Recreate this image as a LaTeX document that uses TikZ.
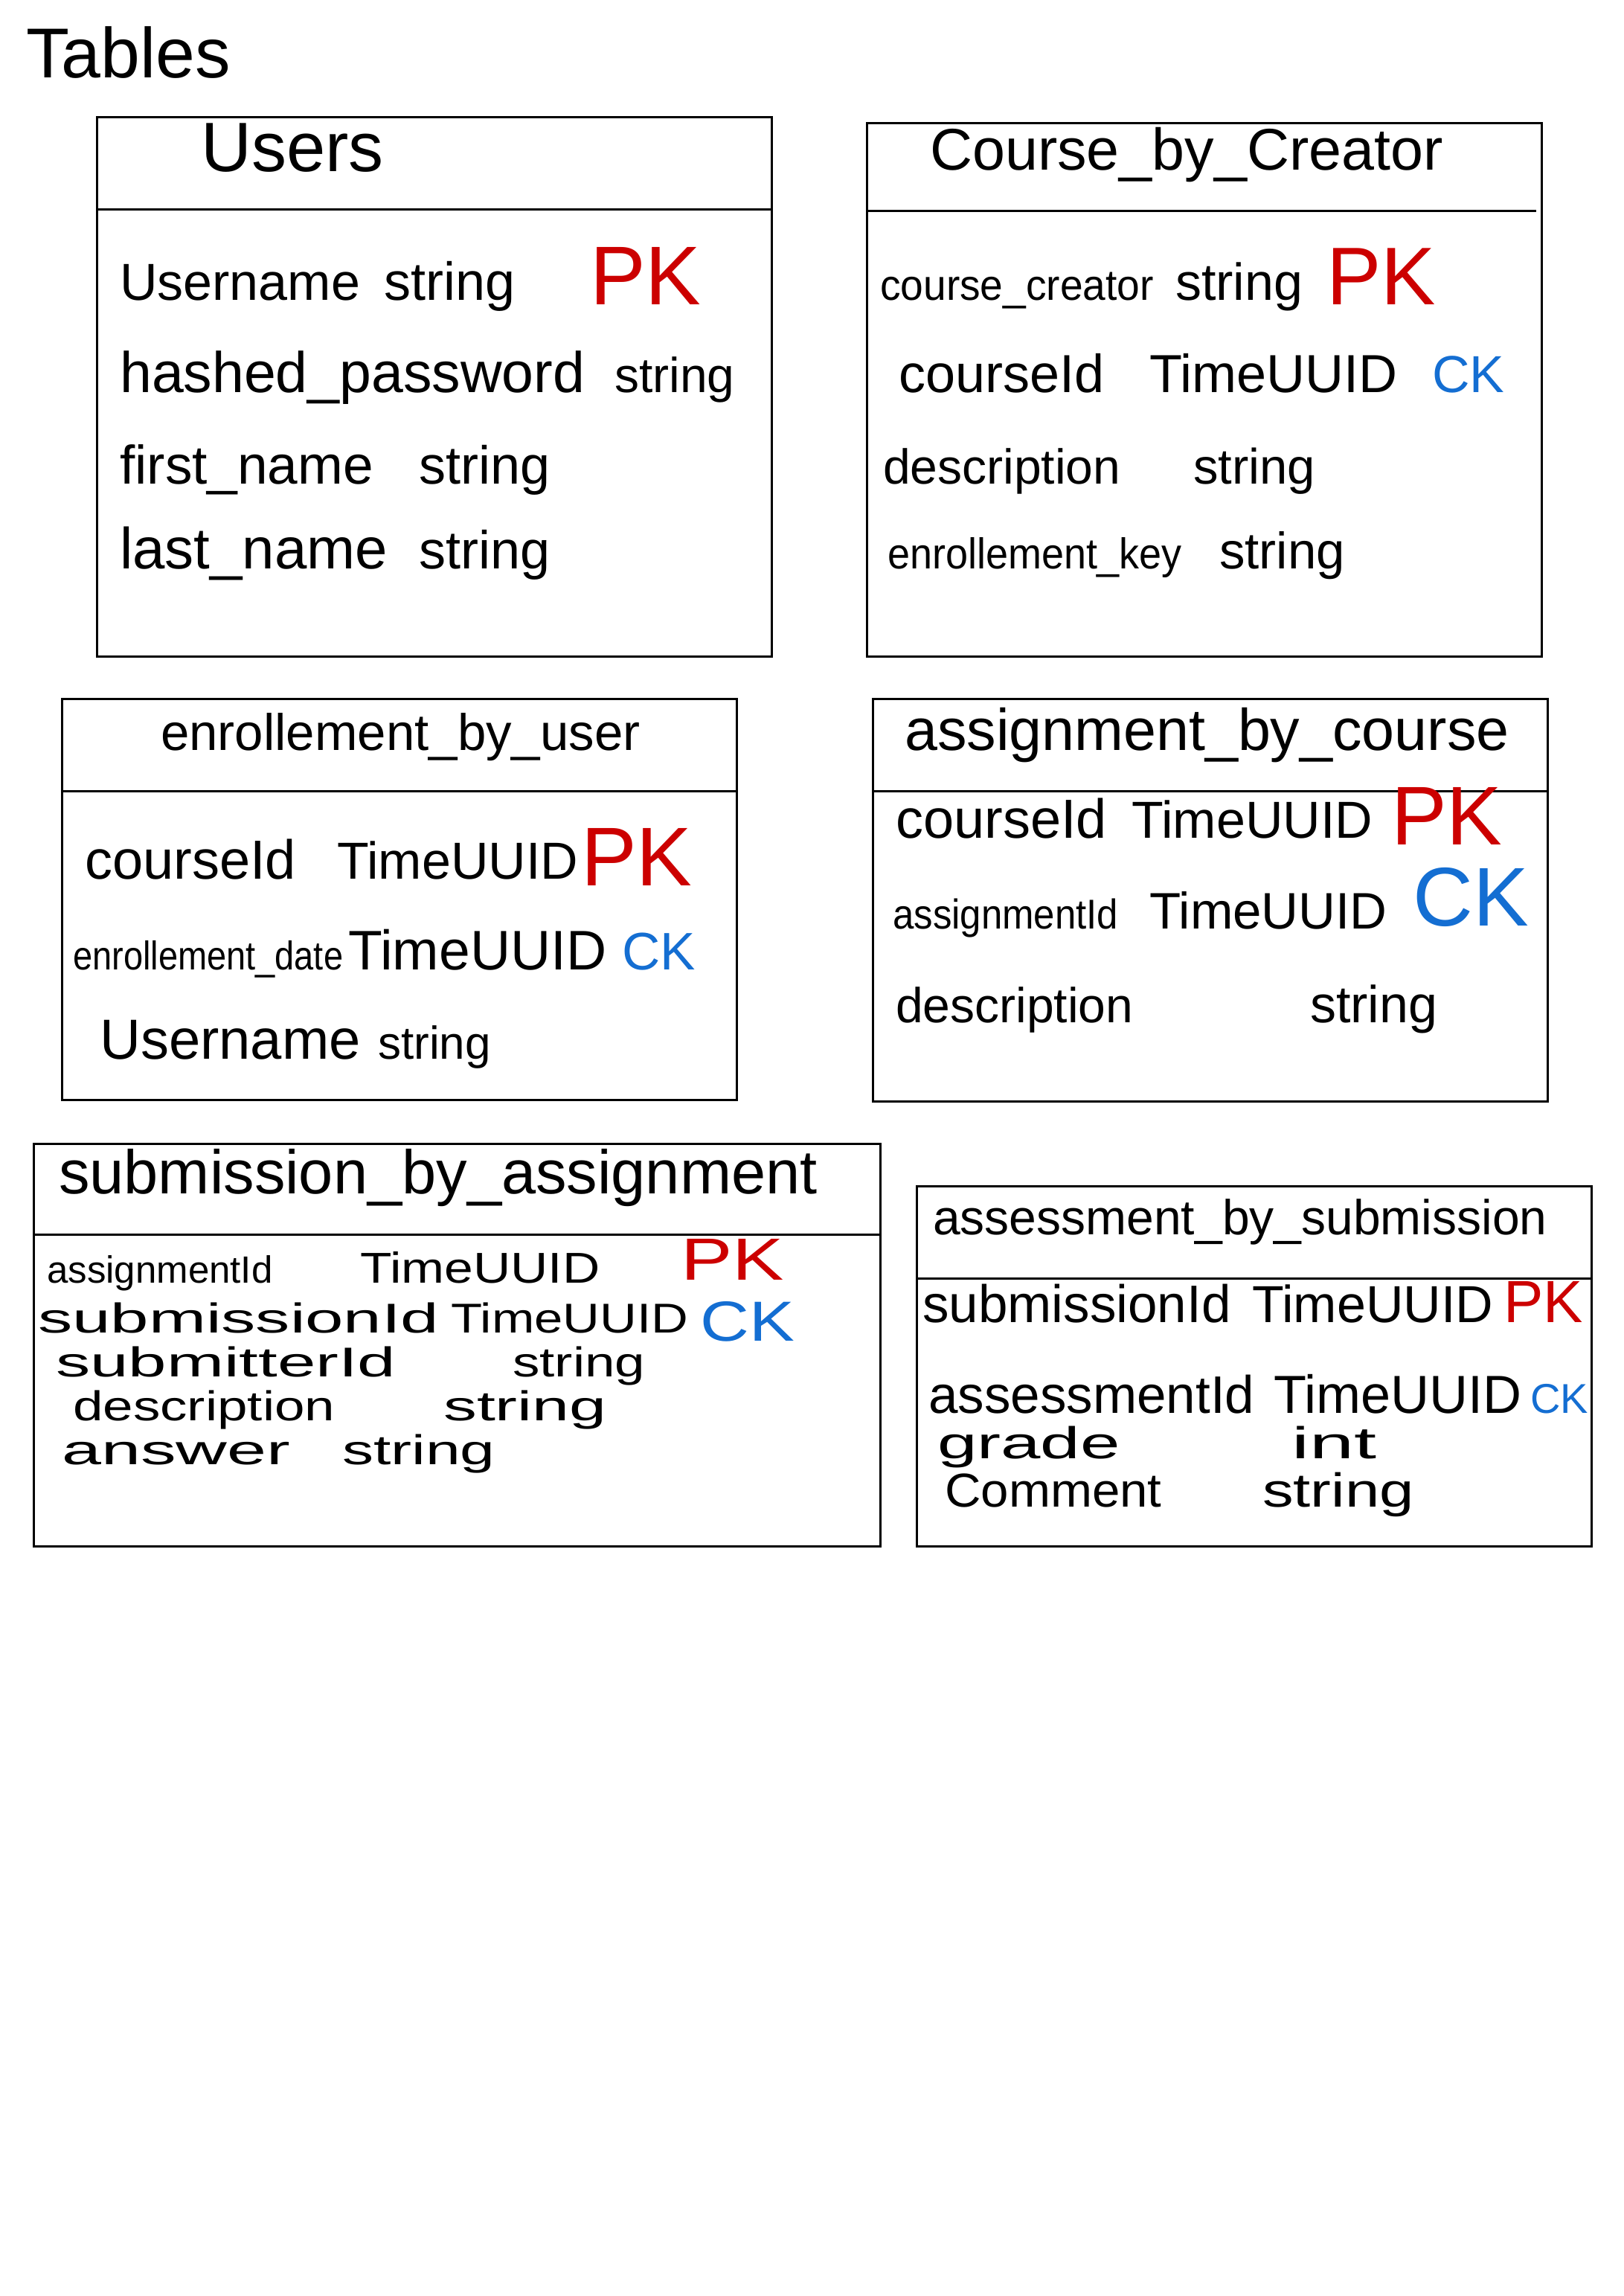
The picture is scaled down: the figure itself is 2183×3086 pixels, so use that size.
\documentclass[tikz,border=0pt]{standalone}
\usepackage{fontspec}
\usepackage{graphicx}
\setmainfont{Liberation Sans}
\definecolor{pkred}{RGB}{204,0,0}
\definecolor{ckblue}{RGB}{20,110,210}
\newcommand\hs[2]{\scalebox{#1}[1]{#2}}
\begin{document}
\begin{tikzpicture}[x=1pt,y=-1pt,
  tbl/.style={draw=black, line width=3pt},
  fld/.style={anchor=base west, inner sep=0pt, font=\fontsize{#1}{#1}\selectfont},
  pk/.style={fld=#1, text=pkred},
  ck/.style={fld=#1, text=ckblue}]
\useasboundingbox (0,0) rectangle (2183,3086);
\fill[white] (0,0) rectangle (2183,3086);

\node[fld=95] (title) at (35,104) {Tables};

% Users
\draw[tbl] (130,157) rectangle (1037,882);
\draw[tbl] (130,281) -- (1037,281);
\node[fld=94] (uT) at (270,230) {Users};
\node[fld=70] (u1) at (161,403) {Username};
\node[fld=72] (u1t) at (516,403) {string};
\node[pk=112] (u1k) at (793,409) {PK};
\node[fld=77] (u2) at (161,527) {hashed\_password};
\node[fld=66] (u2t) at (826,527) {string};
\node[fld=73] (u3) at (161,650) {first\_name};
\node[fld=72] (u3t) at (563,650) {string};
\node[fld=78] (u4) at (161,764) {last\_name};
\node[fld=72] (u4t) at (563,764) {string};

% Course_by_Creator
\draw[tbl] (1165,165) rectangle (2072,882);
\draw[tbl] (1165,283) -- (2065,283);
\node[fld=79] (cT) at (1250,228) {Course\_by\_Creator};
\node[fld=58] (c1) at (1183,403) {\hs{0.95}{course\_creator}};
\node[fld=70] (c1t) at (1580,403) {string};
\node[pk=110] (c1k) at (1783,409) {PK};
\node[fld=72] (c2) at (1208,527) {courseId};
\node[fld=72] (c2t) at (1545,527) {TimeUUID};
\node[ck=70] (c2k) at (1925,527) {CK};
\node[fld=66] (c3) at (1187,650) {description};
\node[fld=67] (c3t) at (1604,650) {string};
\node[fld=58] (c4) at (1193,764) {\hs{0.93}{enrollement\_key}};
\node[fld=69] (c4t) at (1639,764) {string};

% enrollement_by_user
\draw[tbl] (83,939) rectangle (990,1478);
\draw[tbl] (83,1063) -- (990,1063);
\node[fld=69] (eT) at (216,1008) {enrollement\_by\_user};
\node[fld=74] (e1) at (114,1181) {courseId};
\node[fld=70] (e1t) at (453,1181) {TimeUUID};
\node[pk=112] (e1k) at (781,1190) {PK};
\node[fld=54] (e2) at (98,1303) {\hs{0.87}{enrollement\_date}};
\node[fld=75] (e2t) at (468,1303) {TimeUUID};
\node[ck=71] (e2k) at (836,1303) {CK};
\node[fld=76] (e3) at (134,1423) {Username};
\node[fld=62] (e3t) at (508,1423) {string};

% assignment_by_course
\draw[tbl] (1173,939) rectangle (2080,1480);
\draw[tbl] (1173,1063) -- (2080,1063);
\node[fld=79] (aT) at (1216,1008) {assignment\_by\_course};
\node[fld=74] (a1) at (1204,1126) {courseId};
\node[fld=70] (a1t) at (1521,1126) {TimeUUID};
\node[pk=112] (a1k) at (1870,1135) {PK};
\node[fld=56] (a2) at (1200,1248) {\hs{0.91}{assignmentId}};
\node[fld=69] (a2t) at (1545,1248) {TimeUUID};
\node[ck=112] (a2k) at (1899,1244) {CK};
\node[fld=66] (a3) at (1204,1374) {description};
\node[fld=70] (a3t) at (1761,1374) {string};

% submission_by_assignment
\draw[tbl] (45,1537) rectangle (1183,2078);
\draw[tbl] (45,1659) -- (1183,1659);
\node[fld=83] (sT) at (79,1604) {submission\_by\_assignment};
\node[fld=51] (s1) at (63,1724) {assignmentId};
\node[fld=58] (s1t) at (484,1724) {\hs{1.2}{TimeUUID}};
\node[pk=80] (s1k) at (915,1720) {\hs{1.3}{PK}};
\node[fld=76] (s2k) at (941,1802) {\color{ckblue}\hs{1.2}{CK}};
\node[fld=56] (s2) at (51,1791) {\hs{1.65}{submissionId}};
\node[fld=56] (s2t) at (606,1791) {\hs{1.23}{TimeUUID}};
\node[fld=56] (s3) at (75,1850) {\hs{1.65}{submitterId}};
\node[fld=56] (s3t) at (689,1850) {\hs{1.3}{string}};
\node[fld=56] (s4) at (98,1909) {\hs{1.3}{description}};
\node[fld=56] (s4t) at (596,1909) {\hs{1.6}{string}};
\node[fld=56] (s5) at (83,1968) {\hs{1.7}{answer}};
\node[fld=56] (s5t) at (460,1968) {\hs{1.5}{string}};

% assessment_by_submission
\draw[tbl] (1232,1594) rectangle (2139,2078);
\draw[tbl] (1232,1718) -- (2139,1718);
\node[fld=66] (mT) at (1254,1659) {assessment\_by\_submission};
\node[fld=71] (m1) at (1240,1777) {submissionId};
\node[fld=70] (m1t) at (1683,1777) {TimeUUID};
\node[pk=80] (m1k) at (2021,1777) {PK};
\node[fld=71] (m2) at (1248,1899) {assessmentId};
\node[fld=72] (m2t) at (1712,1899) {TimeUUID};
\node[ck=56] (m2k) at (2057,1899) {CK};
\node[fld=60] (m3) at (1260,1960) {\hs{1.6}{grade}};
\node[fld=60] (m3t) at (1736,1960) {\hs{1.8}{int}};
\node[fld=64] (m4) at (1270,2025) {\hs{1.05}{Comment}};
\node[fld=64] (m4t) at (1697,2025) {\hs{1.3}{string}};
\end{tikzpicture}
\end{document}
